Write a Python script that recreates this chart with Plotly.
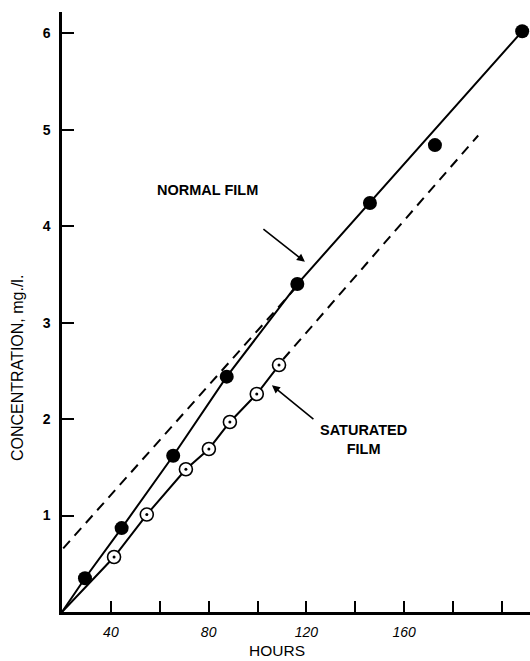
import plotly.graph_objects as go

# Measured points (hours, concentration mg./l.)
normal_hours = [29.4, 44.4, 65.5, 87.4, 116.3, 146.0, 172.6, 208.3]
normal_conc = [0.35, 0.87, 1.62, 2.44, 3.40, 4.24, 4.84, 6.02]

saturated_hours = [41.3, 54.7, 70.7, 80.1, 88.7, 99.7, 108.8]
saturated_conc = [0.57, 1.01, 1.48, 1.69, 1.97, 2.26, 2.56]

# Drawn curves
normal_line_hours = [20.0, 29.4, 44.4, 65.5, 87.4, 116.3, 208.3]
normal_line_conc = [0.0, 0.35, 0.87, 1.62, 2.44, 3.40, 6.02]
normal_extrap_hours = [20.5, 116.3]
normal_extrap_conc = [0.66, 3.38]

saturated_line_hours = [20.0, 41.3, 54.7, 70.7, 80.1, 88.7, 99.7, 108.8]
saturated_line_conc = [0.0, 0.57, 1.01, 1.48, 1.69, 1.97, 2.26, 2.56]
saturated_extrap_hours = [110.5, 190.3]
saturated_extrap_conc = [2.62, 4.94]

x_tick_vals = [40, 60, 80, 100, 120, 140, 160, 180, 200]
x_tick_text = ["40", "", "80", "", "120", "", "160", "", ""]
y_tick_vals = [1, 2, 3, 4, 5, 6]
y_tick_text = ["1", "2", "3", "4", "5", "6"]

FONT = "Liberation Sans, Arial, sans-serif"

fig = go.Figure()

fig.add_trace(go.Scatter(x=normal_extrap_hours, y=normal_extrap_conc, mode="lines",
                         line=dict(color="black", width=2, dash="10px,7px")))
fig.add_trace(go.Scatter(x=saturated_extrap_hours, y=saturated_extrap_conc, mode="lines",
                         line=dict(color="black", width=2, dash="10px,7px")))
fig.add_trace(go.Scatter(x=normal_line_hours, y=normal_line_conc, mode="lines",
                         line=dict(color="black", width=2)))
fig.add_trace(go.Scatter(x=saturated_line_hours, y=saturated_line_conc, mode="lines",
                         line=dict(color="black", width=2)))

fig.add_trace(go.Scatter(x=normal_hours, y=normal_conc, mode="markers", cliponaxis=False,
                         marker=dict(symbol="circle", size=14, color="black",
                                     line=dict(width=0))))
fig.add_trace(go.Scatter(x=saturated_hours, y=saturated_conc, mode="markers", cliponaxis=False,
                         marker=dict(symbol="circle", size=13, color="white",
                                     line=dict(width=1.6, color="black"))))
fig.add_trace(go.Scatter(x=saturated_hours, y=saturated_conc, mode="markers", cliponaxis=False,
                         marker=dict(symbol="circle", size=3, color="black",
                                     line=dict(width=0))))

fig.update_layout(
    width=530, height=661,
    margin=dict(l=62, r=0, t=12, b=49),
    paper_bgcolor="white", plot_bgcolor="white",
    showlegend=False,
    font=dict(family=FONT, color="black"),
    xaxis=dict(range=[20, 211.5], showgrid=False, zeroline=False,
               showline=True, linecolor="black", linewidth=2.5,
               ticks="inside", ticklen=11, tickwidth=2, tickcolor="black",
               tickvals=x_tick_vals, ticktext=x_tick_text,
               tickfont=dict(size=14, style="italic", family=FONT),
               ticklabelstandoff=5),
    yaxis=dict(range=[0, 6.22], showgrid=False, zeroline=False,
               showline=True, linecolor="black", linewidth=2.5,
               ticks="inside", ticklen=12, tickwidth=2, tickcolor="black",
               tickvals=y_tick_vals, ticktext=y_tick_text,
               tickfont=dict(size=14, family=FONT, weight="bold"),
               ticklabelstandoff=6),
)

fig.add_annotation(text="HOURS", xref="paper", yref="paper", x=(277 - 62) / 468,
                   y=-(650 - 612) / 600, showarrow=False, yanchor="middle",
                   font=dict(size=15.5, family=FONT))
fig.add_annotation(text="CONCENTRATION, mg./l.", xref="paper", yref="paper",
                   x=-(62 - 18) / 468, y=(612 - 368) / 600, textangle=-90,
                   showarrow=False, xanchor="center", yanchor="middle",
                   font=dict(size=16, family=FONT))

fig.add_annotation(text="NORMAL FILM", x=79.7, y=4.37, showarrow=False,
                   font=dict(size=14.5, family=FONT, weight="bold"))
fig.add_annotation(text="", x=119.4, y=3.63, ax=-43, ay=-34, showarrow=True,
                   arrowhead=2, arrowsize=1, arrowwidth=1.6, arrowcolor="black")
fig.add_annotation(text="SATURATED<br>FILM", x=143.5, y=1.79, showarrow=False,
                   align="center",
                   font=dict(size=14.5, family=FONT, weight="bold"))
fig.add_annotation(text="", x=105.9, y=2.35, ax=43, ay=35, showarrow=True,
                   arrowhead=2, arrowsize=1, arrowwidth=1.6, arrowcolor="black")

fig.write_html("out.html")
